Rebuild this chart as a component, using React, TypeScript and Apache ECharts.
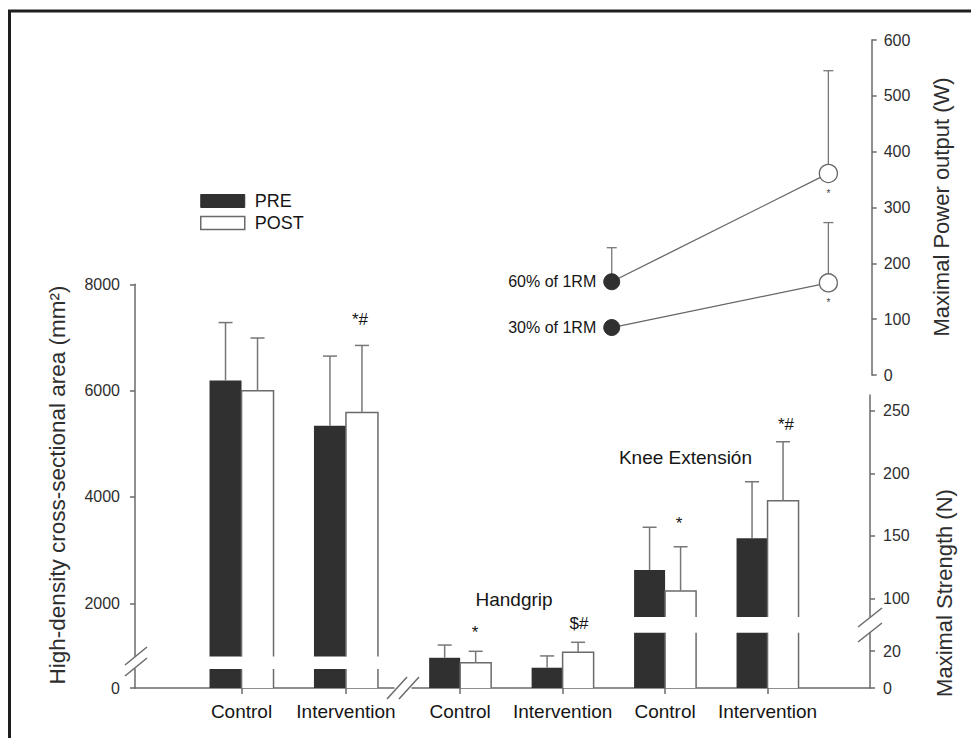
import React, { useEffect, useRef } from 'react';
import * as echarts from 'echarts';

const FONT = '"Liberation Sans", Arial, Helvetica, sans-serif';
const AXIS = '#6a6a6a';
const OUTLINE = '#6a6a6a';
const ERR = '#777777';
const DARK = '#303030';
const TXT = '#151515';

// ---------- data ----------
const legendNames = ['PRE', 'POST'];

const csaGroups = ['Control', 'Intervention'];
const csaPre = [6190, 5340];
const csaPreSd = [1090, 1310];
const csaPost = [6000, 5590];
const csaPostSd = [990, 1260];
const csaTicksUpper = [2000, 4000, 6000, 8000];
const csaTicksLower = [0];

const strengthGroups = ['Control', 'Intervention', 'Control', 'Intervention'];
const strengthPre = [16.4, 11.0, 122.6, 148.0];
const strengthPreSd = [6.9, 6.4, 34.2, 45.2];
const strengthPost = [13.7, 19.4, 105.8, 178.0];
const strengthPostSd = [6.2, 5.4, 35.4, 47.2];
const strengthTicksUpper = [100, 150, 200, 250];
const strengthTicksLower = [0, 20];

const powerLoads = ['60% of 1RM', '30% of 1RM'];
const power60 = [167, 361];
const power60Sd = [61, 184];
const power30 = [85, 165];
const power30Sd = [0, 108];

const panelLabels = ['Handgrip', 'Knee Extensión'];
const sigMarks = ['*#', '*', '$#', '*', '*#'];
const axisTitles = ['High-density cross-sectional area (mm²)', 'Maximal Power output (W)', 'Maximal Strength (N)'];

// ---------- helpers ----------
const pairs = (arr: number[]) => arr.map((v, i) => [i, v]);
const overlayData = (pre: number[], preSd: number[], post: number[], postSd: number[]) => {
  const out: number[][] = [];
  pre.forEach((v, i) => {
    out.push([i, v, v + preSd[i], -1]);
    out.push([i, post[i], post[i] + postSd[i], 1]);
  });
  return out;
};

const makeOverlay = (halfW: number) => (params: any, api: any) => {
  const cs = params.coordSys;
  const yMin = cs.y;
  const yMax = cs.y + cs.height;
  const clamp = (y: number) => Math.max(yMin, Math.min(yMax, y));
  const xv = api.value(0);
  const v = api.value(1);
  const top = api.value(2);
  const side = api.value(3);
  const p = api.coord([xv, v]);
  const cx = p[0] + side * halfW;
  const l = cx - halfW;
  const r = cx + halfW;
  const children: any[] = [];
  const ls = { stroke: OUTLINE, lineWidth: 1.5, fill: 'none' };
  if (side > 0) {
    const t = clamp(p[1]);
    if (t < yMax - 0.1) {
      if (p[1] >= yMin) {
        children.push({ type: 'polyline', shape: { points: [[l, yMax], [l, t], [r, t], [r, yMax]] }, style: ls });
      } else {
        children.push({ type: 'line', shape: { x1: l, y1: yMax, x2: l, y2: yMin }, style: ls });
        children.push({ type: 'line', shape: { x1: r, y1: yMax, x2: r, y2: yMin }, style: ls });
      }
    }
  }
  if (top > v) {
    const et = api.coord([xv, top])[1];
    const y1 = clamp(p[1]);
    const y2 = clamp(et);
    if (y1 - y2 > 0.5) {
      const es = { stroke: ERR, lineWidth: 1.5, fill: 'none' };
      children.push({ type: 'line', shape: { x1: cx, y1, x2: cx, y2 }, style: es });
      if (et >= yMin && et <= yMax) {
        children.push({ type: 'line', shape: { x1: cx - 7, y1: et, x2: cx + 7, y2: et }, style: es });
      }
    }
  }
  return { type: 'group', children };
};

const renderPowerErr = (params: any, api: any) => {
  const x = api.value(0);
  const v = api.value(1);
  const top = api.value(2);
  if (!(top > v)) return null;
  const p = api.coord([x, v]);
  const t = api.coord([x, top]);
  const es = { stroke: ERR, lineWidth: 1.3, fill: 'none' };
  return {
    type: 'group',
    children: [
      { type: 'line', shape: { x1: p[0], y1: p[1], x2: t[0], y2: t[1] }, style: es },
      { type: 'line', shape: { x1: t[0] - 5, y1: t[1], x2: t[0] + 5, y2: t[1] }, style: es },
    ],
  };
};

const yAxisOf = (gridIndex: number, position: string, min: number, max: number, ticks: number[] | null, margin: number, interval?: number) => ({
  type: 'value',
  gridIndex,
  position,
  min,
  max,
  ...(interval ? { interval } : {}),
  axisLine: { show: true, onZero: false, lineStyle: { color: AXIS, width: 1.5 } },
  axisTick: { show: true, length: 5, ...(ticks ? { customValues: ticks } : {}), lineStyle: { color: AXIS, width: 1.5 } },
  axisLabel: {
    show: true, ...(ticks ? { customValues: ticks } : {}), margin, fontSize: 16, color: '#2e2e2e', fontFamily: FONT,
    formatter: (v: number) => String(v),
  },
  splitLine: { show: false },
});

const hiddenX = (gridIndex: number, min: number, max: number) => ({
  type: 'value', gridIndex, min, max, show: false,
  axisLine: { onZero: false }, splitLine: { show: false },
});

const shownX = (gridIndex: number, min: number, max: number, names: string[]) => {
  const vals = names.map((_, i) => i);
  return {
    type: 'value', gridIndex, min, max, position: 'bottom',
    axisLine: { show: true, onZero: false, lineStyle: { color: AXIS, width: 1.5 } },
    axisTick: { show: true, length: 6, customValues: vals, lineStyle: { color: AXIS, width: 1.5 } },
    axisLabel: { show: true, customValues: vals, formatter: (v: number) => names[Math.round(v)] ?? '', margin: 14, fontSize: 19, color: TXT, fontFamily: FONT },
    splitLine: { show: false },
  };
};

const barPair = (grid: number, pre: number[], post: number[], w: number) => [
  { type: 'bar', name: legendNames[0], xAxisIndex: grid, yAxisIndex: grid, data: pairs(pre), barWidth: w, barGap: '0%', itemStyle: { color: DARK }, z: 2, clip: true },
  { type: 'bar', name: legendNames[1], xAxisIndex: grid, yAxisIndex: grid, data: pairs(post), barWidth: w, barGap: '0%', itemStyle: { color: '#ffffff' }, z: 2, clip: true },
];

const overlay = (grid: number, data: number[][], halfW: number) => ({
  type: 'custom', xAxisIndex: grid, yAxisIndex: grid, data, renderItem: makeOverlay(halfW), z: 3, clip: false,
  encode: { x: 0, y: 1 },
});

const line = (x1: number, y1: number, x2: number, y2: number, color = AXIS, w = 1.5) => ({
  type: 'line', shape: { x1, y1, x2, y2 }, style: { stroke: color, lineWidth: w }, z: 50,
});
const txt = (text: string, x: number, y: number, size: number, align = 'center', rotation = 0, color = TXT) => ({
  type: 'text', x, y, rotation, z: 50,
  style: { text, fontSize: size, fontFamily: FONT, fill: color, textAlign: align, textVerticalAlign: 'middle' },
});

export default function App() {
  const ref = useRef<HTMLDivElement>(null);
  useEffect(() => {
    if (!ref.current) return;
    const chart = echarts.init(ref.current, null, { renderer: 'svg' });
    const csaOver = overlayData(csaPre, csaPreSd, csaPost, csaPostSd);
    const strOver = overlayData(strengthPre, strengthPreSd, strengthPost, strengthPostSd);

    const option: any = {
      animation: false,
      backgroundColor: '#ffffff',
      textStyle: { fontFamily: FONT },
      legend: {
        show: true,
        orient: 'vertical',
        left: 195,
        top: 187,
        itemWidth: 44,
        itemHeight: 13,
        itemGap: 4,
        selectedMode: false,
        icon: 'rect',
        textStyle: { fontSize: 18, color: TXT, fontFamily: FONT, padding: [0, 0, 0, 5] },
        data: [
          { name: legendNames[0], itemStyle: { color: DARK, borderColor: DARK, borderWidth: 1 } },
          { name: legendNames[1], itemStyle: { color: '#ffffff', borderColor: OUTLINE, borderWidth: 1.5 } },
        ],
      },
      grid: [
        { left: 135, top: 284.3, width: 259, height: 372.2, containLabel: false, outerBoundsMode: 'none' },
        { left: 135, top: 669, width: 259, height: 19, containLabel: false, outerBoundsMode: 'none' },
        { left: 412, top: 395, width: 458, height: 222, containLabel: false, outerBoundsMode: 'none' },
        { left: 412, top: 632.7, width: 458, height: 55.3, containLabel: false, outerBoundsMode: 'none' },
        { left: 568.4, top: 40, width: 303.3, height: 335, containLabel: false, outerBoundsMode: 'none' },
      ],
      xAxis: [
        hiddenX(0, -1.02, 1.46),
        shownX(1, -1.02, 1.46, csaGroups),
        hiddenX(2, -0.47, 4.0),
        shownX(3, -0.47, 4.0, strengthGroups),
        hiddenX(4, -0.2, 1.2),
      ],
      yAxis: [
        yAxisOf(0, 'left', 1000, 8000, csaTicksUpper, 15),
        yAxisOf(1, 'left', 0, 357, csaTicksLower, 15),
        yAxisOf(2, 'right', 85, 262.6, strengthTicksUpper, 13),
        yAxisOf(3, 'right', 0, 30, strengthTicksLower, 13),
        yAxisOf(4, 'right', 0, 600, null, 12, 100),
      ],
      series: [
        ...barPair(0, csaPre, csaPost, 32),
        ...barPair(1, csaPre, csaPost, 32),
        overlay(0, csaOver, 16),
        overlay(1, csaOver, 16),
        ...barPair(2, strengthPre, strengthPost, 31),
        ...barPair(3, strengthPre, strengthPost, 31),
        overlay(2, strOver, 15.5),
        overlay(3, strOver, 15.5),
        {
          type: 'custom', xAxisIndex: 4, yAxisIndex: 4, z: 1, clip: false, encode: { x: 0, y: 1 },
          renderItem: renderPowerErr,
          data: [
            [0, power60[0], power60[0] + power60Sd[0]],
            [1, power60[1], power60[1] + power60Sd[1]],
            [0, power30[0], power30[0] + power30Sd[0]],
            [1, power30[1], power30[1] + power30Sd[1]],
          ],
        },
        ...[[power60, powerLoads[0]], [power30, powerLoads[1]]].map(([vals, name]: any) => ({
          type: 'line', name, xAxisIndex: 4, yAxisIndex: 4, z: 4, clip: false,
          symbol: 'circle',
          lineStyle: { color: '#666', width: 1.3 },
          data: [
            {
              value: [0, vals[0]], symbolSize: 16,
              itemStyle: { color: DARK, borderColor: DARK, borderWidth: 1 },
              label: { show: true, position: 'left', distance: 7, formatter: name, fontSize: 16, color: TXT, fontFamily: FONT },
            },
            {
              value: [1, vals[1]], symbolSize: 18,
              itemStyle: { color: '#ffffff', borderColor: '#666', borderWidth: 1.3 },
              label: { show: true, position: 'bottom', distance: 5, formatter: '*', fontSize: 10, color: '#444', fontFamily: FONT },
            },
          ],
        })),
      ],
      graphic: [
        // frame (top and left edges)
        line(8, 11, 971, 11, '#1e1e1e', 3),
        line(9.5, 10, 9.5, 738, '#1e1e1e', 3),
        // axis breaks
        line(125, 665, 147, 647, AXIS, 1.5),
        line(125, 676, 147, 658, AXIS, 1.5),
        line(387, 699, 407, 677, AXIS, 1.5),
        line(399, 699, 419, 677, AXIS, 1.5),
        line(858, 627, 882, 608, AXIS, 1.5),
        line(858, 642, 882, 623, AXIS, 1.5),
        // axis titles
        txt(axisTitles[0], 57, 485, 22.5, 'center', Math.PI / 2, '#2e2e2e'),
        txt(axisTitles[1], 941, 207, 22, 'center', Math.PI / 2, '#2e2e2e'),
        txt(axisTitles[2], 944, 593, 22, 'center', Math.PI / 2, '#2e2e2e'),
        // panel labels
        txt(panelLabels[0], 514, 599, 19),
        txt(panelLabels[1], 752, 457, 19, 'right'),
        // significance marks
        txt(sigMarks[0], 360, 319, 17),
        txt(sigMarks[1], 475, 632, 17),
        txt(sigMarks[2], 579, 623, 17),
        txt(sigMarks[3], 679, 523, 17),
        txt(sigMarks[4], 786, 424, 17),
      ],
    };
    chart.setOption(option);
    return () => chart.dispose();
  }, []);
  return <div ref={ref} style={{ position: 'fixed', left: 0, top: 0, width: 971, height: 738, background: '#fff' }} />;
}
